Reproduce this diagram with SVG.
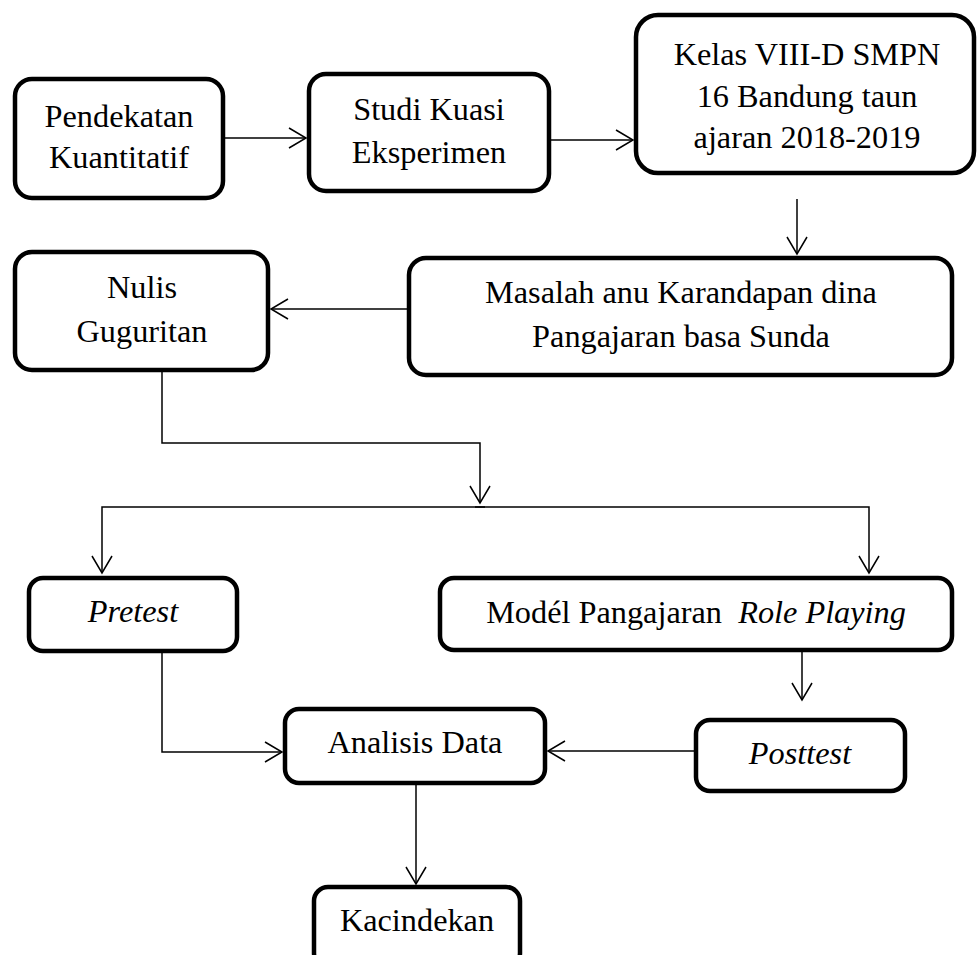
<svg xmlns="http://www.w3.org/2000/svg" width="978" height="955" viewBox="0 0 978 955">
<style>
.box{fill:#fff;stroke:#000;stroke-width:4.5}
.t{font-family:"Liberation Serif","Times New Roman",serif;font-size:32.3px;fill:#000;text-anchor:middle}
.i{font-style:italic}
.c{fill:none;stroke:#000;stroke-width:1.5}
</style>
<defs>
<marker id="ah" markerUnits="userSpaceOnUse" markerWidth="22" markerHeight="26" viewBox="-19 -13 22 26" refX="0" refY="0" orient="auto">
<path d="M-17,-10 L0,0 L-17,10" fill="none" stroke="#000" stroke-width="1.5"/>
</marker>
</defs>
<rect width="978" height="955" fill="#fff"/>
<g id="connectors">
<path class="c" d="M225,138 H306" marker-end="url(#ah)"/>
<path class="c" d="M551,140 H633" marker-end="url(#ah)"/>
<path class="c" d="M797,199 V254" marker-end="url(#ah)"/>
<path class="c" d="M407,309 H271" marker-end="url(#ah)"/>
<path class="c" d="M162,372 V443 H480 V503" marker-end="url(#ah)"/>
<path class="c" d="M485,507 H102 V573" marker-end="url(#ah)"/>
<path class="c" d="M475,507 H869 V573" marker-end="url(#ah)"/>
<path class="c" d="M802,645 V700" marker-end="url(#ah)"/>
<path class="c" d="M162,653 V752 H282" marker-end="url(#ah)"/>
<path class="c" d="M694,751 H548" marker-end="url(#ah)"/>
<path class="c" d="M416,785 V884" marker-end="url(#ah)"/>
</g>
<g id="pendekatan">
<rect class="box" x="15" y="79" width="208" height="119" rx="17"/>
<text class="t" x="119" y="127">Pendekatan</text>
<text class="t" x="119" y="168">Kuantitatif</text>
</g>
<g id="studi">
<rect class="box" x="309" y="74" width="240" height="117" rx="17"/>
<text class="t" x="429" y="120">Studi Kuasi</text>
<text class="t" x="429" y="163">Eksperimen</text>
</g>
<g id="kelas">
<rect class="box" x="636" y="15" width="338" height="158" rx="22"/>
<text class="t" x="807" y="65">Kelas VIII-D SMPN</text>
<text class="t" x="807" y="107">16 Bandung taun</text>
<text class="t" x="807" y="148">ajaran 2018-2019</text>
</g>
<g id="masalah">
<rect class="box" x="409" y="258" width="543" height="117" rx="17"/>
<text class="t" x="681" y="303">Masalah anu Karandapan dina</text>
<text class="t" x="681" y="347">Pangajaran basa Sunda</text>
</g>
<g id="nulis">
<rect class="box" x="15" y="252" width="253" height="118" rx="17"/>
<text class="t" x="142" y="298">Nulis</text>
<text class="t" x="142" y="342">Guguritan</text>
</g>
<g id="pretest">
<rect class="box" x="29" y="578" width="208" height="73" rx="14"/>
<text class="t i" x="133" y="622">Pretest</text>
</g>
<g id="model">
<rect class="box" x="440" y="578" width="512" height="72" rx="14"/>
<text class="t" x="696" y="623" xml:space="preserve">Modél Pangajaran  <tspan class="i">Role Playing</tspan></text>
</g>
<g id="posttest">
<rect class="box" x="696" y="720" width="209" height="71" rx="14"/>
<text class="t i" x="800" y="764">Posttest</text>
</g>
<g id="analisis">
<rect class="box" x="285" y="709" width="260" height="74" rx="14"/>
<text class="t" x="415" y="753">Analisis Data</text>
</g>
<g id="kacindekan">
<rect class="box" x="314" y="887" width="206" height="80" rx="14"/>
<text class="t" x="417" y="931">Kacindekan</text>
</g>
</svg>
